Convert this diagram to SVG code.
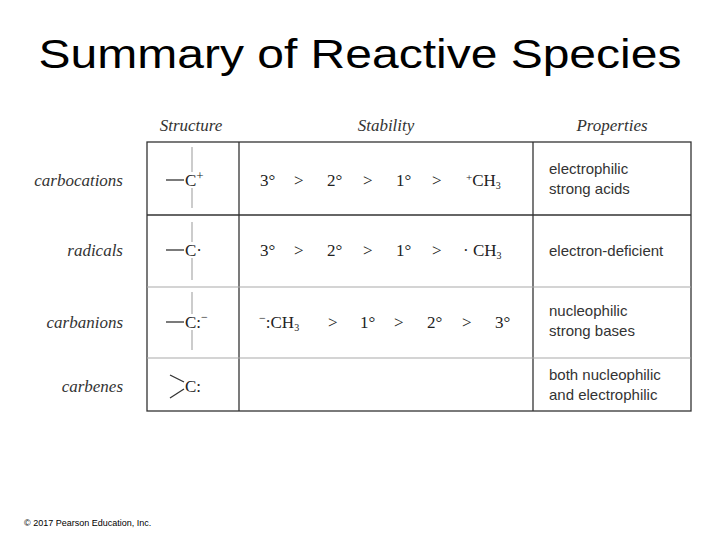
<svg xmlns="http://www.w3.org/2000/svg" width="720" height="540" viewBox="0 0 720 540">
<style>
.t{font-family:"Liberation Serif",serif;font-size:17px;fill:#222}
.i{font-family:"Liberation Serif",serif;font-style:italic;font-size:17px;fill:#333}
.p{font-family:"Liberation Sans",Arial,sans-serif;font-size:15px;fill:#333}
.b{stroke:#333;stroke-width:1.3}
.g{stroke:#aaa;stroke-width:1.2}
.s{font-size:10px}
</style>
<rect width="720" height="540" fill="#fff"/>
<text x="360" y="68" text-anchor="middle" font-family="Liberation Sans,Arial,sans-serif" font-size="40" fill="#000" transform="translate(360 0) scale(1.2 1) translate(-360 0)">Summary of Reactive Species</text>
<g id="headers">
<text class="i" x="191" y="131" text-anchor="middle">Structure</text>
<text class="i" x="386" y="131" text-anchor="middle">Stability</text>
<text class="i" x="612" y="131" text-anchor="middle">Properties</text>
</g>
<g id="grid" fill="none">
<rect x="147" y="142" width="544" height="269" class="b"/>
<line x1="239" y1="142" x2="239" y2="411" class="b"/>
<line x1="533" y1="142" x2="533" y2="411" class="b"/>
<line x1="147" y1="215" x2="691" y2="215" class="b"/>
<line x1="147" y1="287" x2="691" y2="287" class="g"/>
<line x1="147" y1="358" x2="691" y2="358" class="g"/>
</g>
<g id="carbocations">
<text class="i" x="123" y="186" text-anchor="end">carbocations</text>
<line x1="192" y1="147" x2="192" y2="172" class="g"/><line x1="192" y1="188" x2="192" y2="208" class="g"/>
<line x1="166" y1="180" x2="184" y2="180" class="b"/>
<text class="t" x="185" y="186">C<tspan font-size="13" dy="-6">+</tspan></text>
<text class="t" x="260" y="186">3°</text><text class="t" x="294" y="186">&gt;</text><text class="t" x="327" y="186">2°</text><text class="t" x="363" y="186">&gt;</text><text class="t" x="396" y="186">1°</text><text class="t" x="432" y="186">&gt;</text>
<text class="t" x="466" y="186"><tspan font-size="11" dy="-5">+</tspan><tspan dy="5">CH</tspan><tspan class="s" dy="3">3</tspan></text>
<text class="p" x="549" y="174">electrophilic</text><text class="p" x="549" y="194">strong acids</text>
</g>
<g id="radicals">
<text class="i" x="123" y="256" text-anchor="end">radicals</text>
<line x1="192" y1="222" x2="192" y2="242" class="g"/><line x1="192" y1="258" x2="192" y2="280" class="g"/>
<line x1="166" y1="250" x2="184" y2="250" class="b" stroke-width="2"/>
<text class="t" x="185" y="256">C·</text>
<text class="t" x="260" y="256">3°</text><text class="t" x="294" y="256">&gt;</text><text class="t" x="327" y="256">2°</text><text class="t" x="363" y="256">&gt;</text><text class="t" x="396" y="256">1°</text><text class="t" x="432" y="256">&gt;</text>
<text class="t" x="463" y="256">· CH<tspan class="s" dy="3">3</tspan></text>
<text class="p" x="549" y="256">electron-deficient</text>
</g>
<g id="carbanions">
<text class="i" x="123" y="328" text-anchor="end">carbanions</text>
<line x1="192" y1="292" x2="192" y2="314" class="g"/><line x1="192" y1="330" x2="192" y2="350" class="g"/>
<line x1="166" y1="322" x2="184" y2="322" class="b" stroke-width="2"/>
<text class="t" x="185" y="328">C:<tspan font-size="12" dy="-7">−</tspan></text>
<text class="t" x="259" y="328"><tspan font-size="12" dy="-6">−</tspan><tspan dy="6">:CH</tspan><tspan class="s" dy="3">3</tspan></text>
<text class="t" x="328" y="328">&gt;</text><text class="t" x="360" y="328">1°</text><text class="t" x="394" y="328">&gt;</text><text class="t" x="427" y="328">2°</text><text class="t" x="462" y="328">&gt;</text><text class="t" x="495" y="328">3°</text>
<text class="p" x="549" y="316">nucleophilic</text><text class="p" x="549" y="336">strong bases</text>
</g>
<g id="carbenes">
<text class="i" x="123" y="392" text-anchor="end">carbenes</text>
<line x1="170" y1="375" x2="184" y2="382" class="b"/><line x1="170" y1="398" x2="184" y2="389" class="b"/>
<text class="t" x="185" y="392">C:</text>
<text class="p" x="549" y="380">both nucleophilic</text><text class="p" x="549" y="400">and electrophilic</text>
</g>
<text x="24" y="526" font-family="Liberation Sans,Arial,sans-serif" font-size="9" fill="#000">© 2017 Pearson Education, Inc.</text>
</svg>
